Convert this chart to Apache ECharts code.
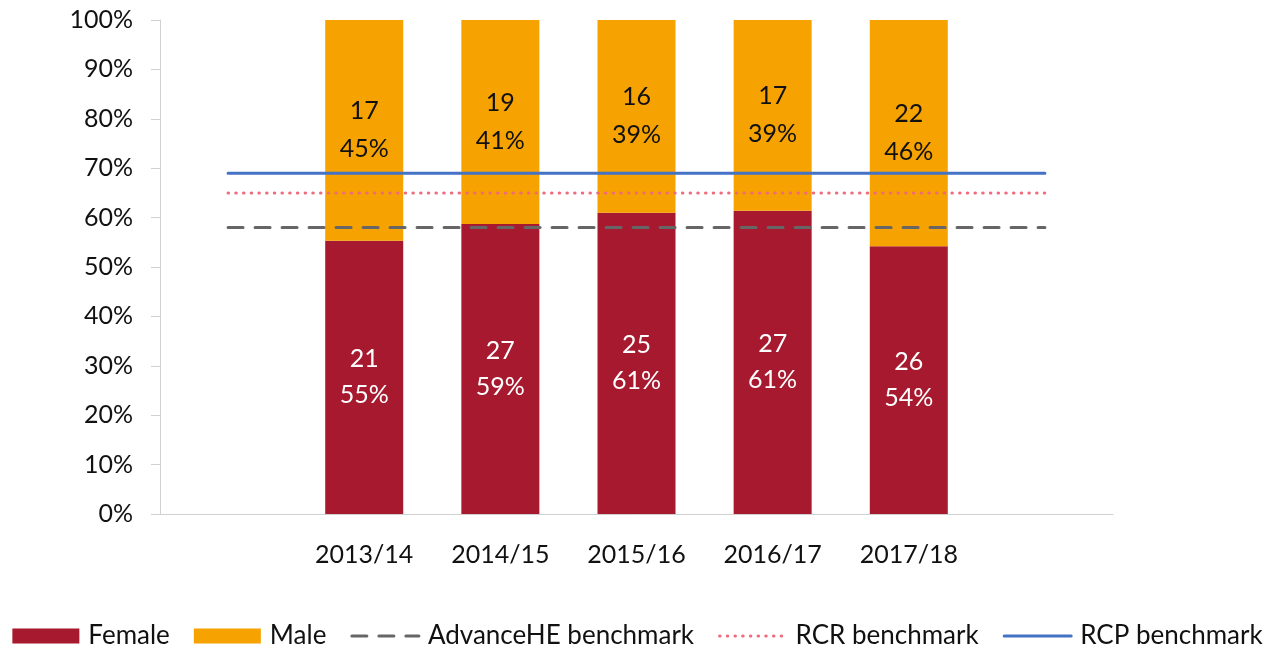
<!DOCTYPE html>
<html>
<head>
<meta charset="utf-8">
<script src="https://cdn.jsdelivr.net/npm/echarts@6/dist/echarts.min.js"></script>
<style>html,body{margin:0;padding:0;background:#fff}#echartsMain{width:1275px;height:651px}</style>
</head>
<body>
<div id="echartsMain"></div>
<script>
// categories (blank slot at each end, as in the original chart)
var years = ['', '2013/14', '2014/15', '2015/16', '2016/17', '2017/18', ''];
// head counts per year
var femaleCount = [21, 27, 25, 27, 26];
var maleCount = [17, 19, 16, 17, 22];
// share of the total, %
var femalePct = [55.3, 58.7, 61.0, 61.4, 54.2];
var malePct = [44.7, 41.3, 39.0, 38.6, 45.8];
var femaleText = ['55%', '59%', '61%', '61%', '54%'];
var maleText = ['45%', '41%', '39%', '39%', '46%'];
// benchmarks, %
var advanceHE = 58;
var rcr = 65;
var rcp = 69;
var yTicks = [0, 10, 20, 30, 40, 50, 60, 70, 80, 90, 100];

var font = 'Lato, "Open Sans", sans-serif';

function pad(arr) {
	return ['-'].concat(arr).concat(['-']);
}
function flat(v) {
	return years.map(function () { return v; });
}

var myChart = echarts.init(document.getElementById('echartsMain'));

// hide the marker dot on the line legend icons
var noDot = { opacity: 0 };

var option = {
	animation: false,
	textStyle: { fontFamily: font },
	grid: { left: 160, right: 162, top: 20, bottom: 137 },
	legend: {
		bottom: -3,
		left: 'center',
		itemWidth: 67,
		itemHeight: 15,
		itemGap: 24,
		lineStyle: { width: 3 },
		textStyle: { fontFamily: font, fontSize: 26, color: '#111', padding: [0, 0, 0, 4] },
		data: [
			{ name: 'Female', icon: 'rect' },
			{ name: 'Male', icon: 'rect' },
			{ name: 'AdvanceHE benchmark', itemStyle: noDot },
			{ name: 'RCR benchmark', itemStyle: noDot },
			{ name: 'RCP benchmark', itemStyle: noDot }
		]
	},
	xAxis: {
		type: 'category',
		data: years,
		boundaryGap: true,
		axisLine: { lineStyle: { color: '#d0d0d0', width: 1 } },
		axisTick: { length: 10, lineStyle: { color: '#d0d0d0' } },
		axisLabel: { fontFamily: font, fontSize: 25, color: '#111', margin: 28 }
	},
	yAxis: {
		type: 'value',
		min: 0,
		max: 100,
		interval: 10,
		axisLine: { show: true, lineStyle: { color: '#d0d0d0' } },
		axisTick: { show: true, length: 9, lineStyle: { color: '#d0d0d0' } },
		splitLine: { show: false },
		axisLabel: {
			fontFamily: font, fontSize: 25, color: '#111', margin: 27,
			formatter: function (v) { return yTicks.indexOf(v) >= 0 ? v + '%' : ''; }
		}
	},
	series: [
		{
			name: 'Female',
			type: 'bar',
			stack: 'all',
			barWidth: 78,
			itemStyle: { color: '#A6192E' },
			label: {
				show: true,
				position: 'inside',
				color: '#fff',
				fontFamily: font,
				fontSize: 25,
				lineHeight: 36,
				formatter: function (p) {
					var i = p.dataIndex - 1;
					return femaleCount[i] + '\n' + femaleText[i];
				}
			},
			data: pad(femalePct)
		},
		{
			name: 'Male',
			type: 'bar',
			stack: 'all',
			barWidth: 78,
			itemStyle: { color: '#F6A200' },
			label: {
				show: true,
				position: 'inside',
				color: '#111',
				fontFamily: font,
				fontSize: 25,
				lineHeight: 38,
				formatter: function (p) {
					var i = p.dataIndex - 1;
					return maleCount[i] + '\n' + maleText[i];
				}
			},
			data: pad(malePct)
		},
		{
			name: 'AdvanceHE benchmark',
			type: 'line',
			symbol: 'none',
			z: 5,
			itemStyle: { color: '#666666' },
			lineStyle: { color: '#666666', width: 3, type: [15, 12], cap: 'round' },
			data: flat(advanceHE)
		},
		{
			name: 'RCR benchmark',
			type: 'line',
			symbol: 'none',
			z: 5,
			itemStyle: { color: '#F06A7C' },
			lineStyle: { color: '#F06A7C', width: 3, type: [0.5, 7.2], cap: 'round' },
			data: flat(rcr)
		},
		{
			name: 'RCP benchmark',
			type: 'line',
			symbol: 'none',
			z: 6,
			itemStyle: { color: '#4472C4' },
			lineStyle: { color: '#4472C4', width: 3, cap: 'round' },
			data: flat(rcp)
		}
	]
};

myChart.setOption(option);
</script>
</body>
</html>
